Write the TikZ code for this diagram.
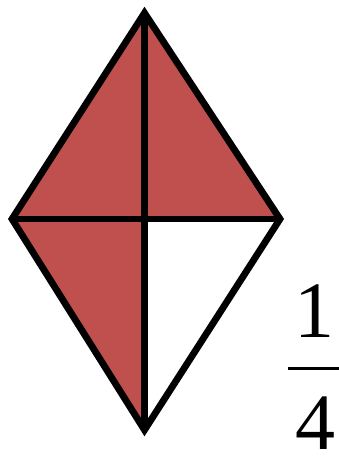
\documentclass[tikz,border=0pt]{standalone}
\usepackage{fontspec}
\setmainfont{Liberation Serif}
\definecolor{fillred}{HTML}{C0504D}
\begin{document}
\begin{tikzpicture}[x=1pt,y=1pt,
  edge/.style={draw=black,line width=6.8pt,line join=miter},
  digit/.style={font=\fontsize{80}{80}\selectfont,inner sep=0pt,anchor=base}]
\useasboundingbox (0,0) rectangle (339,457);
\coordinate (T) at (144.5,444);
\coordinate (L) at (12,238);
\coordinate (R) at (280,238);
\coordinate (B) at (144.5,27);
\coordinate (C) at (144.5,238);
\fill[fillred] (T) -- (L) -- (B) -- (C) -- (R) -- cycle;
\draw[edge] (T) -- (L) -- (B) -- (R) -- cycle;
\draw[edge] (T) -- (B);
\draw[edge] (L) -- (R);
\node[digit] (one) at (314,119) {1};
\node[digit] (four) at (315,8) {4};
\coordinate (barL) at (288,88);
\coordinate (barR) at (339,88);
\draw[line width=3pt] (barL) -- (barR);
\end{tikzpicture}
\end{document}
